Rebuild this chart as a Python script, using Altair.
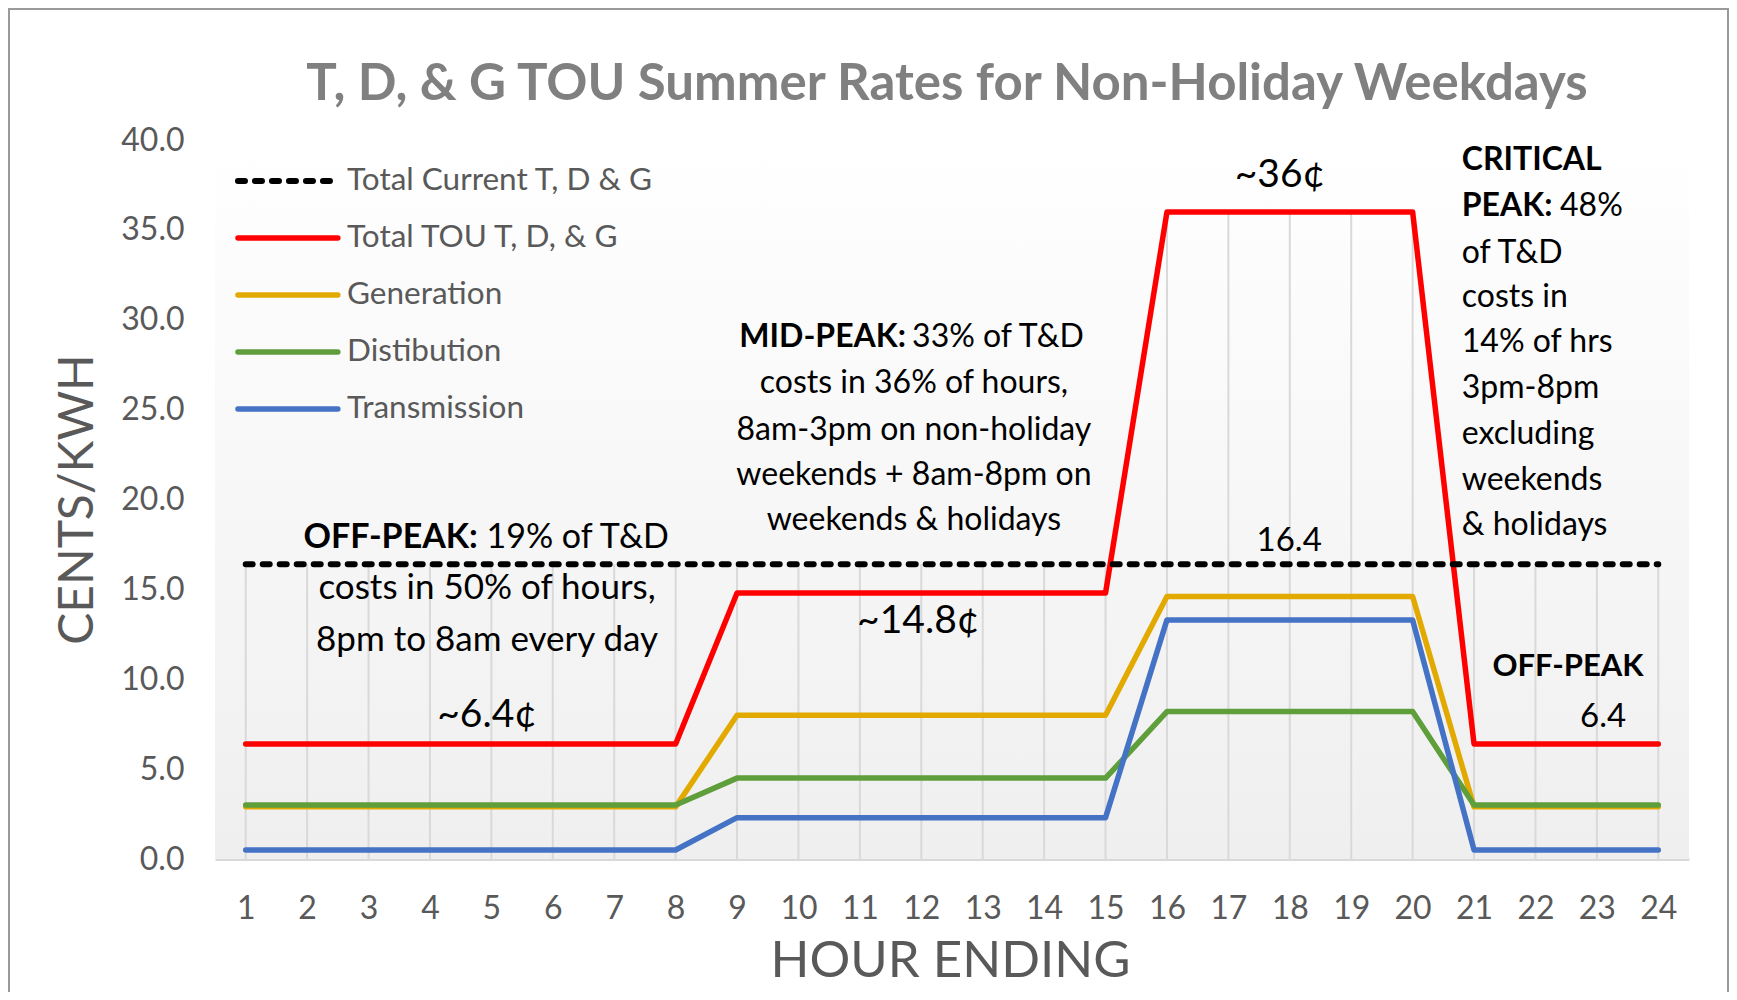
import altair as alt
import pandas as pd

# ---------------- data ----------------
hours = [1, 2, 3, 4, 5, 6, 7, 8, 9, 10, 11, 12, 13, 14, 15, 16, 17, 18, 19, 20, 21, 22, 23, 24]
total_current = [16.4, 16.4, 16.4, 16.4, 16.4, 16.4, 16.4, 16.4, 16.4, 16.4, 16.4, 16.4,
                 16.4, 16.4, 16.4, 16.4, 16.4, 16.4, 16.4, 16.4, 16.4, 16.4, 16.4, 16.4]
total_tou = [6.4, 6.4, 6.4, 6.4, 6.4, 6.4, 6.4, 6.4, 14.8, 14.8, 14.8, 14.8,
             14.8, 14.8, 14.8, 36.0, 36.0, 36.0, 36.0, 36.0, 6.4, 6.4, 6.4, 6.4]
generation = [2.9, 2.9, 2.9, 2.9, 2.9, 2.9, 2.9, 2.9, 8.0, 8.0, 8.0, 8.0,
              8.0, 8.0, 8.0, 14.6, 14.6, 14.6, 14.6, 14.6, 2.9, 2.9, 2.9, 2.9]
distribution = [3.0, 3.0, 3.0, 3.0, 3.0, 3.0, 3.0, 3.0, 4.5, 4.5, 4.5, 4.5,
                4.5, 4.5, 4.5, 8.2, 8.2, 8.2, 8.2, 8.2, 3.0, 3.0, 3.0, 3.0]
transmission = [0.5, 0.5, 0.5, 0.5, 0.5, 0.5, 0.5, 0.5, 2.3, 2.3, 2.3, 2.3,
                2.3, 2.3, 2.3, 13.3, 13.3, 13.3, 13.3, 13.3, 0.5, 0.5, 0.5, 0.5]

series_names = ["Total Current T, D & G", "Total TOU T, D, & G", "Generation",
                "Distibution", "Transmission"]
series_values = [total_current, total_tou, generation, distribution, transmission]
series_colors = ["#000000", "#FF0000", "#E2AA00", "#5E9E3B", "#4472C4"]
y_ticks = [0, 5, 10, 15, 20, 25, 30, 35, 40]

title_text = "T, D, & G TOU Summer Rates for Non-Holiday  Weekdays"
x_title = "HOUR ENDING"
y_title = "CENTS/KWH"

# ---------------- styling ----------------
FONT = "Lato"
GRAY = "#595959"
PLOT_W, PLOT_H = 1474, 719

xscale = alt.Scale(domain=[0.5, 24.5], nice=False, zero=False)
yscale = alt.Scale(domain=[0, 40], nice=False)
xaxis = alt.Axis(values=hours, format="d", title=x_title, labelFont=FONT, labelFontSize=32,
                 labelColor=GRAY, labelPadding=49, labelBaseline="middle", ticks=False,
                 tickSize=0, grid=False, domainColor="#d9d9d9", domainWidth=3,
                 labelFlush=False, labelOverlap=False,
                 titleFont=FONT, titleFontSize=51, titleColor=GRAY, titleFontWeight="normal",
                 titleX=735, titleY=102, titleBaseline="middle", titleAlign="center")
yaxis = alt.Axis(values=y_ticks, format=".1f", title=y_title, labelFont=FONT, labelFontSize=32,
                 labelColor=GRAY, labelPadding=31, ticks=False, tickSize=0, domain=False,
                 grid=False, labelOverlap=False,
                 titleFont=FONT, titleFontSize=48, titleColor=GRAY, titleFontWeight="normal",
                 titleX=-137, titleY=359, titleAngle=270, titleAlign="center",
                 titleBaseline="middle")


def X(field="hour"):
    return alt.X(f"{field}:Q", scale=xscale, axis=xaxis)


def Y(field="value"):
    return alt.Y(f"{field}:Q", scale=yscale, axis=yaxis)


long_rows = []
for name, vals in zip(series_names, series_values):
    for h, v in zip(hours, vals):
        long_rows.append({"series": name, "hour": h, "value": v})
long_df = pd.DataFrame(long_rows)

layers = []

# outer frame of the chart area
frame = alt.Chart(pd.DataFrame({"a": [0]})).mark_rect(
    fill="transparent", stroke="#9a9a9a", strokeWidth=2, clip=False
).encode(x=alt.value(-206), x2=alt.value(1513), y=alt.value(-131), y2=alt.value(900))
layers.append(frame)

# plot-area gradient background
bg_df = pd.DataFrame({"hour": [0.5], "hour2": [24.5], "value": [40], "value2": [0]})
bg = alt.Chart(bg_df).mark_rect(
    fill=alt.Gradient(gradient="linear", x1=0, x2=0, y1=0, y2=1,
                      stops=[alt.GradientStop(color="#ffffff", offset=0),
                             alt.GradientStop(color="#efefef", offset=1)])
).encode(x=X(), x2="hour2:Q", y=Y(), y2="value2:Q")
layers.append(bg)

# drop lines (from the highest series at each hour down to the axis)
drop = long_df.groupby("hour", as_index=False)["value"].max()
drop["value2"] = 0
drops = alt.Chart(drop).mark_rule(color="#d9d9d9", strokeWidth=2).encode(
    x=X(), y=Y(), y2="value2:Q")
layers.append(drops)

# series lines
draw_order = [1, 2, 3, 4, 0]
for i in draw_order:
    sub = long_df[long_df["series"] == series_names[i]]
    kw = dict(color=series_colors[i], strokeWidth=5.5, strokeCap="round", strokeJoin="round")
    if i == 0:
        kw["strokeDash"] = [7, 10]
        kw["strokeWidth"] = 6
    layers.append(alt.Chart(sub).mark_line(**kw).encode(x=X(), y=Y()))

# legend (drawn manually at the upper left of the plot)
leg_y0, leg_step = 37.72, 3.17
leg_rows = []
for k, name in enumerate(series_names):
    leg_rows.append({"series": name, "hour": 0.874, "hour2": 2.50,
                     "value": leg_y0 - k * leg_step, "lx": 2.65})
leg_df = pd.DataFrame(leg_rows)
for k, name in enumerate(series_names):
    kw = dict(color=series_colors[k], strokeWidth=5.5, strokeCap="round")
    if k == 0:
        kw["strokeDash"] = [7, 10]
        kw["strokeWidth"] = 6
    layers.append(alt.Chart(leg_df[leg_df["series"] == name]).mark_rule(**kw).encode(
        x=X(), x2="hour2:Q", y=Y()))
leg_txt = leg_df.assign(hour=leg_df["lx"])
layers.append(alt.Chart(leg_txt).mark_text(
    font=FONT, fontSize=31.5, color=GRAY, align="left", baseline="middle"
).encode(x=X(), y=Y(), text="series:N"))


# annotations
def txt(rows, size, weight="normal", align="center", color="#000000"):
    df = pd.DataFrame(rows, columns=["hour", "value", "text"])
    return alt.Chart(df).mark_text(font=FONT, fontSize=size, fontWeight=weight, align=align,
                                   baseline="middle", color=color).encode(
        x=X(), y=Y(), text="text:N")


# OFF-PEAK block
layers.append(txt([(4.78, 17.86, "OFF-PEAK:")], 34, "bold", "right"))
layers.append(txt([(4.92, 17.86, "19% of T&D")], 34, "normal", "left"))
layers.append(txt([(4.93, 15.08, "costs in 50% of hours,"),
                   (4.93, 12.18, "8pm to 8am every day")], 35))
layers.append(txt([(4.93, 8.01, "~6.4¢")], 39))

# MID-PEAK block
layers.append(txt([(11.75, 29.04, "MID-PEAK:")], 32, "bold", "right"))
layers.append(txt([(11.85, 29.04, "33% of T&D")], 32, "normal", "left"))
layers.append(txt([(11.88, 26.48, "costs in 36% of hours,"),
                   (11.88, 23.87, "8am-3pm on non-holiday"),
                   (11.88, 21.36, "weekends + 8am-8pm on"),
                   (11.88, 18.86, "weekends & holidays")], 32))
layers.append(txt([(11.95, 13.24, "~14.8¢")], 39))

# peak labels
layers.append(txt([(17.84, 38.05, "~36¢")], 39))
layers.append(txt([(17.99, 17.69, "16.4")], 33))

# CRITICAL PEAK block
layers.append(txt([(20.80, 38.89, "CRITICAL"), (20.80, 36.33, "PEAK:")], 32, "bold", "left"))
layers.append(txt([(22.40, 36.33, "48%"),
                   (20.80, 33.71, "of T&D"),
                   (20.80, 31.27, "costs in"),
                   (20.80, 28.76, "14% of hrs"),
                   (20.80, 26.20, "3pm-8pm"),
                   (20.80, 23.64, "excluding"),
                   (20.80, 21.08, "weekends"),
                   (20.80, 18.58, "& holidays")], 32, "normal", "left"))

# right OFF-PEAK
layers.append(txt([(22.53, 10.68, "OFF-PEAK")], 31, "bold"))
layers.append(txt([(23.10, 7.90, "6.4")], 33))

# chart title
title = alt.Chart(pd.DataFrame({"t": [title_text]})).mark_text(
    font=FONT, fontSize=51, fontWeight="bold", color="#808080", align="center",
    baseline="middle"
).encode(x=alt.value(732), y=alt.value(-55), text="t:N")
layers.append(title)

chart = alt.layer(*layers).properties(
    width=PLOT_W, height=PLOT_H,
    padding={"left": 207, "top": 132, "right": 40, "bottom": 133},
    autosize=alt.AutoSizeParams(type="none"),
    background="white",
).configure_view(stroke=None)

chart.save("out.html", embed_options={"renderer": "svg", "actions": False})
